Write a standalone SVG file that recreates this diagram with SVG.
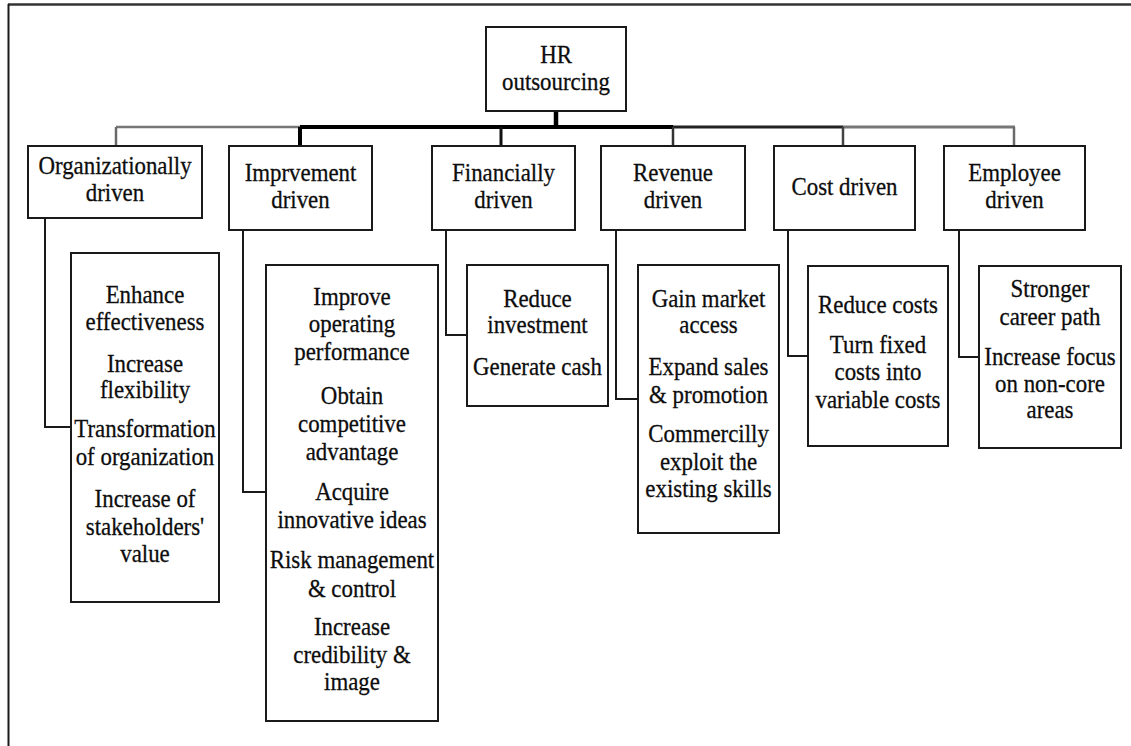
<svg xmlns="http://www.w3.org/2000/svg" width="1131" height="746" viewBox="0 0 1131 746">
  <style>
    .box { fill: #ffffff; stroke: #1a1a1a; stroke-width: 2; }
    .lbl { font-family: 'Liberation Serif', 'Times New Roman', Times, serif; font-size: 26px; fill: #0d0d0d; stroke: #0d0d0d; stroke-width: 0.3; text-anchor: middle;
           transform: scaleX(0.88); transform-box: fill-box; transform-origin: center; }
    .wire { fill: none; stroke: #1a1a1a; stroke-width: 2; }
    .wire-grey { fill: none; stroke: #6a6a6a; stroke-width: 2.5; }
  </style>

  <rect x="0" y="0" width="1131" height="746" fill="#ffffff"/>

  <!-- page frame: top and left rules only -->
  <g id="frame">
    <line x1="8" y1="4.5" x2="1131" y2="4.5" stroke="#333333" stroke-width="2.5"/>
    <line x1="8.5" y1="4" x2="8.5" y2="746" stroke="#1a1a1a" stroke-width="2"/>
  </g>

  <!-- connectors -->
  <g id="connectors">
    <!-- trunk from root -->
    <line x1="556" y1="111" x2="556" y2="128" stroke="#000000" stroke-width="4.5"/>
    <!-- horizontal bus -->
    <line x1="116" y1="127" x2="300" y2="127" stroke="#777777" stroke-width="2.5"/>
    <line x1="300" y1="127" x2="673" y2="127" stroke="#000000" stroke-width="4"/>
    <line x1="673" y1="127" x2="843" y2="127" stroke="#222222" stroke-width="3"/>
    <line x1="843" y1="127" x2="1015" y2="127" stroke="#777777" stroke-width="3"/>
    <!-- drops to first-level boxes -->
    <line x1="116" y1="127" x2="116" y2="146" class="wire-grey"/>
    <line x1="300" y1="127" x2="300" y2="146" stroke="#000000" stroke-width="4"/>
    <line x1="501" y1="127" x2="501" y2="146" stroke="#111111" stroke-width="3"/>
    <line x1="673" y1="127" x2="673" y2="146" stroke="#333333" stroke-width="2.5"/>
    <line x1="843" y1="127" x2="843" y2="146" stroke="#444444" stroke-width="2.5"/>
    <line x1="1014" y1="127" x2="1014" y2="146" class="wire-grey"/>
    <!-- elbows to detail boxes -->
    <polyline points="45,218 45,427 71,427" class="wire"/>
    <polyline points="243,230 243,492 266,492" class="wire"/>
    <polyline points="446,230 446,335 467,335" class="wire"/>
    <polyline points="616,230 616,399 638,399" class="wire"/>
    <polyline points="788,230 788,356 808,356" class="wire"/>
    <polyline points="959,230 959,357 979,357" class="wire"/>
  </g>

  <!-- root -->
  <g id="hr-outsourcing">
    <rect x="486" y="27" width="140" height="84" class="box"/>
    <text class="lbl" x="556" y="63">HR</text>
    <text class="lbl" x="556" y="90">outsourcing</text>
  </g>

  <!-- first level -->
  <g id="organizationally-driven">
    <rect x="28" y="146" width="174" height="72" class="box"/>
    <text class="lbl" x="115" y="174">Organizationally</text>
    <text class="lbl" x="115" y="201">driven</text>
  </g>
  <g id="improvement-driven">
    <rect x="229" y="146" width="143" height="84" class="box"/>
    <text class="lbl" x="300.5" y="181">Imprvement</text>
    <text class="lbl" x="300.5" y="208">driven</text>
  </g>
  <g id="financially-driven">
    <rect x="432" y="146" width="143" height="84" class="box"/>
    <text class="lbl" x="503.5" y="181">Financially</text>
    <text class="lbl" x="503.5" y="208">driven</text>
  </g>
  <g id="revenue-driven">
    <rect x="601" y="146" width="144" height="84" class="box"/>
    <text class="lbl" x="673" y="181">Revenue</text>
    <text class="lbl" x="673" y="208">driven</text>
  </g>
  <g id="cost-driven">
    <rect x="774" y="146" width="141" height="84" class="box"/>
    <text class="lbl" x="844.5" y="195">Cost driven</text>
  </g>
  <g id="employee-driven">
    <rect x="944" y="146" width="141" height="84" class="box"/>
    <text class="lbl" x="1014.5" y="181">Employee</text>
    <text class="lbl" x="1014.5" y="208">driven</text>
  </g>

  <!-- detail boxes -->
  <g id="organizational-details">
    <rect x="71" y="253" width="148" height="349" class="box"/>
    <text class="lbl" x="145" y="303">Enhance</text>
    <text class="lbl" x="145" y="330">effectiveness</text>
    <text class="lbl" x="145" y="372">Increase</text>
    <text class="lbl" x="145" y="398">flexibility</text>
    <text class="lbl" x="145" y="437">Transformation</text>
    <text class="lbl" x="145" y="465">of organization</text>
    <text class="lbl" x="145" y="507">Increase of</text>
    <text class="lbl" x="145" y="535">stakeholders'</text>
    <text class="lbl" x="145" y="562">value</text>
  </g>
  <g id="improvement-details">
    <rect x="266" y="265" width="172" height="456" class="box"/>
    <text class="lbl" x="352" y="305">Improve</text>
    <text class="lbl" x="352" y="332">operating</text>
    <text class="lbl" x="352" y="360">performance</text>
    <text class="lbl" x="352" y="404">Obtain</text>
    <text class="lbl" x="352" y="432">competitive</text>
    <text class="lbl" x="352" y="460">advantage</text>
    <text class="lbl" x="352" y="500">Acquire</text>
    <text class="lbl" x="352" y="528">innovative ideas</text>
    <text class="lbl" x="352" y="568">Risk management</text>
    <text class="lbl" x="352" y="597">&amp; control</text>
    <text class="lbl" x="352" y="635">Increase</text>
    <text class="lbl" x="352" y="663">credibility &amp;</text>
    <text class="lbl" x="352" y="690">image</text>
  </g>
  <g id="financial-details">
    <rect x="467" y="265" width="141" height="141" class="box"/>
    <text class="lbl" x="537.5" y="307">Reduce</text>
    <text class="lbl" x="537.5" y="333">investment</text>
    <text class="lbl" x="537.5" y="375">Generate cash</text>
  </g>
  <g id="revenue-details">
    <rect x="638" y="265" width="141" height="268" class="box"/>
    <text class="lbl" x="708.5" y="307">Gain market</text>
    <text class="lbl" x="708.5" y="333">access</text>
    <text class="lbl" x="708.5" y="375">Expand sales</text>
    <text class="lbl" x="708.5" y="403">&amp; promotion</text>
    <text class="lbl" x="708.5" y="442">Commercilly</text>
    <text class="lbl" x="708.5" y="470">exploit the</text>
    <text class="lbl" x="708.5" y="497">existing skills</text>
  </g>
  <g id="cost-details">
    <rect x="808" y="266" width="140" height="180" class="box"/>
    <text class="lbl" x="878" y="313">Reduce costs</text>
    <text class="lbl" x="878" y="353">Turn fixed</text>
    <text class="lbl" x="878" y="380">costs into</text>
    <text class="lbl" x="878" y="408">variable costs</text>
  </g>
  <g id="employee-details">
    <rect x="979" y="266" width="142" height="182" class="box"/>
    <text class="lbl" x="1050" y="297">Stronger</text>
    <text class="lbl" x="1050" y="325">career path</text>
    <text class="lbl" x="1050" y="365">Increase focus</text>
    <text class="lbl" x="1050" y="392">on non-core</text>
    <text class="lbl" x="1050" y="418">areas</text>
  </g>
</svg>
